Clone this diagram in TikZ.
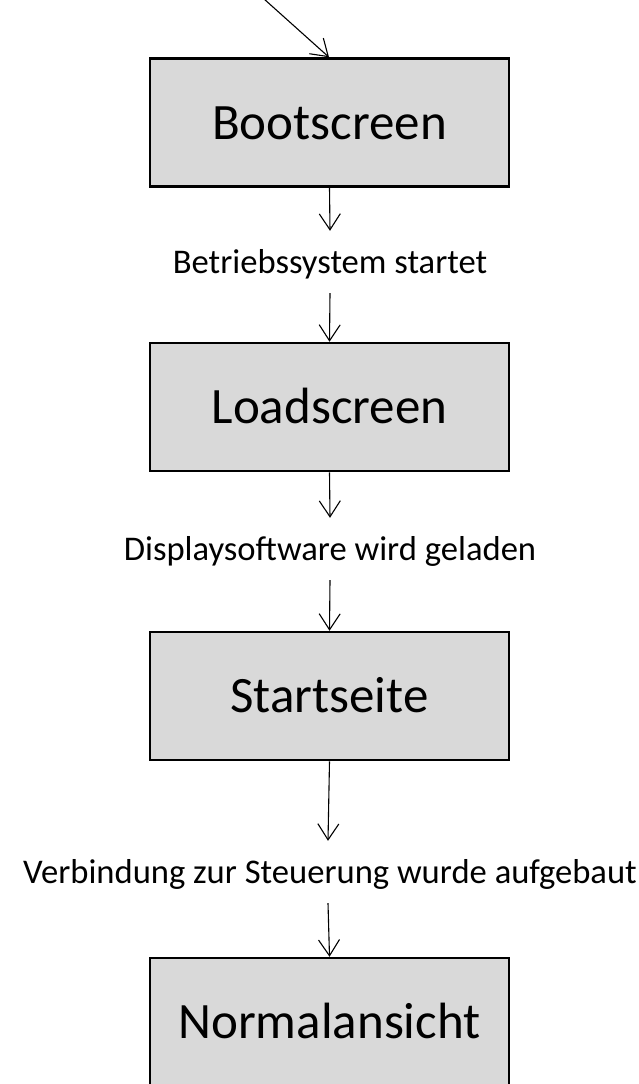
\documentclass[tikz,border=0pt]{standalone}
\usepackage{fontspec}
\setmainfont{Carlito}
\usetikzlibrary{arrows.meta}
\definecolor{boxgray}{HTML}{D9D9D9}
\tikzset{
  statebox/.style={draw=black, line width=2.5pt, fill=boxgray, minimum width=359pt,
    minimum height=128pt, inner sep=0pt, text height=33pt, text depth=0pt,
    font=\fontsize{51}{60}\selectfont},
  lbl/.style={anchor=base, inner xsep=0pt, inner ysep=10pt, text height=32pt, text depth=10pt,
    font=\fontsize{34.6}{40}\selectfont},
  arr/.style={line width=1.1pt, -{Straight Barb[length=16pt,width=21pt,line width=1.1pt]}}
}
\begin{document}
\begin{tikzpicture}[x=1pt,y=-1pt]
\useasboundingbox (0,0) rectangle (639,1084);
\clip (0,0) rectangle (639,1084);
\fill[white] (0,0) rectangle (639,1084);

\node[statebox] (b1) at (329.5,122.5) {Bootscreen};
\node[statebox] (b2) at (329.5,407) {Loadscreen};
\node[statebox] (b3) at (329.5,696) {Startseite};
\node[statebox] (b4) at (329.5,1022) {Normalansicht};

\node[lbl] (l1) at (330,273) {Betriebssystem startet};
\node[lbl] (l2) at (330,560) {Displaysoftware wird geladen};
\node[lbl] (l3) at (330,883) {Verbindung zur Steuerung wurde aufgebaut};

\coordinate (in0) at (254,-10);
\draw[arr] (in0) -- ([xshift=-0.5pt]b1.north);
\draw[arr] (b1.south) -- (l1.north);
\draw[arr] (l1.south) -- (b2.north);
\draw[arr] (b2.south) -- (l2.north);
\draw[arr] (l2.south) -- (b3.north);
\draw[arr] (b3.south) -- ([xshift=-2pt]l3.north);
\draw[arr] ([xshift=-2pt]l3.south) -- (b4.north);
\end{tikzpicture}
\end{document}
